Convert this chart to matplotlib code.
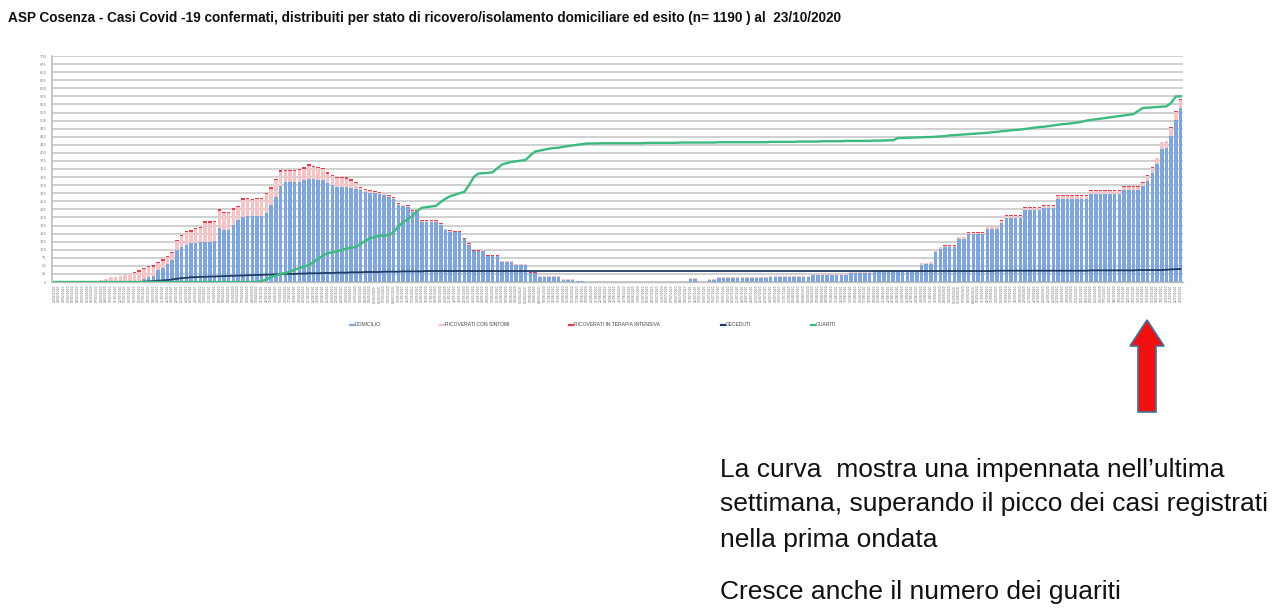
import matplotlib
matplotlib.use('Agg')
import matplotlib.pyplot as plt
import numpy as np
import pandas as pd
from matplotlib.patches import Polygon
from matplotlib.lines import Line2D

# ---------------- data ----------------
dates = pd.date_range('2020-02-27', '2020-10-23').strftime('%d/%m/%Y').tolist()

domicilio = [
    0, 0, 0, 0, 0, 0, 0, 0, 0, 0,
    0, 0, 0, 0, 0, 0, 0, 0, 0, 10,
    17, 19, 36, 44, 55, 68, 99, 109, 115, 120,
    120, 123, 125, 125, 126, 167, 161, 162, 176, 191,
    202, 203, 204, 204, 205, 213, 238, 263, 297, 310,
    310, 311, 311, 315, 320, 318, 317, 317, 308, 300,
    294, 294, 293, 290, 288, 284, 280, 277, 275, 272,
    268, 262, 256, 238, 234, 232, 216, 216, 186, 186,
    186, 187, 178, 161, 156, 154, 154, 132, 116, 95,
    95, 95, 79, 79, 79, 61, 61, 61, 52, 52,
    52, 28, 28, 17, 17, 17, 17, 17, 7, 7,
    7, 2, 2, 0, 0, 0, 0, 0, 0, 0,
    0, 0, 0, 0, 0, 0, 0, 0, 0, 0,
    0, 0, 0, 0, 0, 9, 9, 0, 0, 6,
    6, 12, 12, 12, 12, 12, 12, 12, 12, 12,
    12, 12, 16, 16, 16, 16, 16, 16, 16, 16,
    16, 22, 22, 22, 22, 22, 22, 22, 22, 28,
    28, 28, 28, 28, 34, 34, 34, 34, 34, 34,
    34, 34, 34, 34, 54, 55, 57, 94, 103, 109,
    109, 109, 134, 134, 149, 149, 149, 149, 165, 165,
    165, 182, 198, 198, 198, 198, 223, 223, 223, 223,
    229, 229, 229, 258, 258, 258, 258, 258, 258, 258,
    273, 273, 273, 273, 273, 273, 273, 286, 286, 286,
    286, 298, 314, 337, 365, 413, 414, 452, 502, 538,
]

ricoverati_sintomi = [
    0, 0, 0, 0, 0, 0, 0, 0, 0, 0,
    5, 9, 14, 16, 19, 21, 25, 29, 32, 29,
    29, 29, 22, 22, 21, 22, 27, 32, 39, 36,
    44, 44, 59, 59, 59, 54, 52, 52, 48, 40,
    53, 54, 50, 52, 52, 59, 51, 53, 45, 34,
    34, 33, 35, 36, 40, 38, 36, 33, 28, 28,
    27, 27, 27, 24, 18, 8, 6, 5, 4, 4,
    4, 5, 4, 4, 4, 4, 4, 4, 3, 3,
    3, 3, 2, 2, 2, 2, 2, 2, 2, 2,
    2, 3, 3, 3, 3, 3, 3, 3, 3, 3,
    3, 1, 1, 1, 1, 1, 1, 1, 1, 1,
    1, 1, 1, 0, 0, 0, 0, 0, 0, 0,
    0, 0, 0, 0, 0, 0, 0, 0, 0, 0,
    0, 0, 0, 0, 0, 2, 2, 2, 2, 2,
    2, 2, 2, 2, 2, 2, 2, 2, 2, 2,
    2, 2, 2, 2, 2, 2, 2, 2, 2, 2,
    2, 2, 2, 2, 2, 2, 2, 2, 2, 2,
    2, 2, 2, 2, 2, 2, 2, 2, 2, 2,
    2, 2, 2, 2, 4, 4, 4, 4, 4, 4,
    4, 4, 4, 4, 4, 4, 4, 4, 4, 4,
    4, 7, 7, 7, 7, 7, 7, 7, 7, 7,
    7, 7, 7, 9, 9, 9, 9, 9, 9, 9,
    9, 9, 9, 9, 9, 9, 9, 9, 9, 9,
    9, 9, 14, 16, 18, 20, 22, 24, 26, 27,
]

terapia_intensiva = [
    0, 0, 0, 0, 0, 0, 0, 0, 0, 0,
    1, 1, 1, 1, 1, 1, 1, 1, 4, 4,
    4, 4, 4, 4, 4, 4, 4, 4, 4, 4,
    4, 4, 4, 4, 4, 4, 4, 4, 4, 4,
    4, 4, 4, 4, 4, 4, 4, 4, 4, 4,
    4, 4, 4, 4, 4, 4, 4, 4, 4, 4,
    4, 4, 4, 4, 4, 2, 2, 2, 2, 2,
    2, 2, 2, 2, 2, 2, 2, 2, 2, 2,
    2, 2, 2, 2, 2, 2, 2, 2, 2, 2,
    2, 1, 1, 1, 1, 1, 1, 1, 1, 1,
    1, 1, 1, 1, 1, 1, 1, 1, 1, 1,
    1, 1, 1, 0, 0, 0, 0, 0, 0, 0,
    0, 0, 0, 0, 0, 0, 0, 0, 0, 0,
    0, 0, 0, 0, 0, 1, 1, 1, 1, 1,
    1, 1, 1, 1, 1, 1, 1, 1, 1, 1,
    1, 1, 1, 1, 1, 1, 1, 1, 1, 1,
    1, 1, 1, 1, 1, 1, 1, 1, 1, 1,
    1, 1, 1, 1, 1, 1, 1, 1, 1, 1,
    1, 1, 1, 1, 1, 1, 1, 1, 1, 1,
    1, 1, 1, 1, 1, 1, 1, 1, 1, 1,
    1, 2, 2, 2, 2, 2, 2, 2, 2, 2,
    2, 2, 2, 2, 2, 2, 2, 2, 2, 2,
    2, 2, 2, 2, 2, 2, 2, 2, 2, 2,
    2, 2, 2, 2, 2, 2, 2, 3, 3, 3,
]

deceduti = [
    0, 0, 0, 0, 0, 0, 0, 0, 0, 0,
    0, 0, 0, 0, 0, 0, 0, 0, 0, 1,
    2, 3, 4, 5, 6, 8, 10, 12, 13, 15,
    15, 16, 16, 17, 17, 18, 18, 19, 19, 20,
    20, 21, 21, 22, 22, 23, 23, 24, 24, 25,
    25, 25, 26, 26, 27, 27, 27, 28, 28, 28,
    29, 29, 29, 30, 30, 30, 31, 31, 31, 31,
    32, 32, 32, 32, 33, 33, 33, 33, 33, 34,
    34, 34, 34, 34, 34, 34, 34, 34, 34, 34,
    34, 34, 34, 34, 34, 34, 34, 34, 34, 34,
    34, 34, 34, 34, 34, 34, 34, 34, 34, 34,
    34, 34, 34, 34, 34, 34, 34, 34, 34, 34,
    34, 34, 34, 34, 34, 34, 34, 34, 34, 34,
    34, 34, 34, 34, 34, 34, 34, 34, 34, 34,
    34, 34, 34, 34, 34, 34, 34, 34, 34, 34,
    34, 34, 34, 34, 34, 34, 34, 34, 34, 34,
    34, 34, 34, 34, 34, 34, 34, 34, 34, 34,
    34, 34, 34, 34, 34, 34, 34, 34, 34, 34,
    34, 34, 34, 34, 34, 34, 34, 34, 34, 34,
    34, 34, 34, 34, 34, 34, 34, 34, 34, 34,
    35, 35, 35, 35, 35, 35, 35, 35, 35, 35,
    35, 35, 35, 35, 35, 35, 35, 35, 35, 35,
    36, 36, 36, 36, 36, 36, 36, 36, 36, 36,
    37, 37, 37, 37, 37, 37, 38, 39, 40, 40,
]

guariti = [
    0, 0, 0, 0, 0, 0, 0, 0, 0, 0,
    0, 0, 0, 0, 0, 0, 0, 0, 0, 0,
    0, 0, 0, 0, 0, 0, 0, 0, 0, 0,
    0, 0, 0, 0, 0, 0, 0, 0, 0, 0,
    0, 0, 0, 0, 3, 8, 16, 20, 25, 28,
    32, 38, 43, 48, 52, 62, 72, 82, 89, 92,
    95, 99, 104, 106, 109, 118, 128, 135, 140, 143,
    144, 145, 155, 172, 185, 195, 205, 220, 230, 232,
    234, 236, 248, 258, 266, 270, 275, 279, 300, 325,
    336, 337, 338, 340, 352, 364, 368, 372, 374, 376,
    378, 392, 404, 407, 410, 413, 415, 416, 419, 421,
    423, 425, 427, 429, 429, 429, 430, 430, 430, 430,
    430, 430, 430, 430, 430, 430, 431, 431, 431, 431,
    431, 431, 431, 432, 432, 432, 432, 432, 432, 432,
    432, 433, 433, 433, 433, 433, 433, 433, 433, 433,
    433, 433, 434, 434, 434, 434, 434, 434, 435, 435,
    435, 435, 435, 436, 436, 436, 436, 436, 437, 437,
    437, 437, 437, 437, 438, 438, 438, 439, 439, 446,
    446, 447, 447, 448, 448, 449, 449, 450, 451, 452,
    454, 455, 456, 457, 458, 459, 460, 461, 462, 464,
    465, 467, 468, 470, 471, 472, 474, 476, 478, 480,
    481, 483, 485, 487, 489, 490, 492, 494, 496, 500,
    502, 504, 506, 508, 510, 512, 514, 516, 518, 520,
    530, 539, 540, 541, 542, 543, 544, 555, 575, 575,
]

y_ticks = list(range(0, 701, 25))

title = ("ASP Cosenza - Casi Covid -19 confermati, distribuiti per stato di "
         "ricovero/isolamento domiciliare ed esito (n= 1190 ) al  23/10/2020")
legend_labels = ["DOMICILIO", "RICOVERATI CON SINTOMI",
                 "RICOVERATI IN TERAPIA INTENSIVA", "DECEDUTI", "GUARITI"]
note_lines = ["La curva  mostra una impennata nell\u2019ultima",
              "settimana, superando il picco dei casi registrati",
              "nella prima ondata",
              "Cresce anche il numero dei guariti"]

for arr in (domicilio, ricoverati_sintomi, terapia_intensiva, deceduti, guariti):
    assert len(arr) == len(dates), len(arr)

# ---------------- style ----------------
C_BLUE = '#7ea6dd'
C_PINK = '#f4c4c6'
C_RED = '#e2404f'
C_NAVY = '#1f3b63'
C_GREEN = '#3dba7e'
C_GRID = '#d0d0d0'

W, H = 1280, 615
fig = plt.figure(figsize=(W / 100, H / 100), dpi=100)


def fx(px):
    return px / W


def fy(py):
    return 1 - py / H


ax = fig.add_axes([fx(52), fy(282), fx(1183) - fx(52), fy(56) - fy(282)])

x = np.arange(len(dates))
d = np.array(domicilio)
r = np.array(ricoverati_sintomi)
t = np.array(terapia_intensiva)

ax.bar(x, d, width=0.75, color=C_BLUE, zorder=2, linewidth=0)
ax.bar(x, r, bottom=d, width=0.75, color=C_PINK, zorder=2, linewidth=0)
ax.bar(x, t, bottom=d + r, width=0.75, color=C_RED, zorder=2, linewidth=0)
ax.plot(x, deceduti, color=C_NAVY, lw=1.3, zorder=4)
ax.plot(x, guariti, color=C_GREEN, lw=1.7, zorder=5)

ax.set_xlim(-0.5, len(dates) - 0.5)
ax.set_ylim(0, 700)
ax.set_yticks(y_ticks)
ax.set_yticklabels([str(v) for v in y_ticks])
ax.yaxis.grid(True, color=C_GRID, lw=1.4, zorder=0)
ax.set_axisbelow(True)
ax.set_xticks(x)
ax.set_xticklabels(dates, rotation=90, fontsize=2.2, color='#666666')
ax.tick_params(axis='y', labelsize=2.6, labelcolor='#808080', length=0, pad=4)
ax.tick_params(axis='x', length=0, pad=2)
for s in ('top', 'right'):
    ax.spines[s].set_visible(False)
ax.spines['left'].set_color('#bdbdbd')
ax.spines['left'].set_linewidth(1.2)
ax.spines['bottom'].set_color('#bdbdbd')
ax.spines['bottom'].set_linewidth(1.0)

# title
fig.text(fx(8), fy(18), title, fontsize=9.85, fontweight='bold',
         family='Liberation Sans', va='center', ha='left', color='#111111')

# legend (manual, small)
leg_colors = [C_BLUE, C_PINK, C_RED, C_NAVY, C_GREEN]
leg_x = [350, 440, 569, 721, 811]
for lx, col, lab in zip(leg_x, leg_colors, legend_labels):
    fig.add_artist(Line2D([fx(lx), fx(lx + 4)], [fy(325), fy(325)],
                          transform=fig.transFigure, color=col, lw=1.6))
    fig.text(fx(lx + 5), fy(325), lab, fontsize=3.6, color='#444444',
             va='center', ha='left', family='Liberation Sans')

# red arrow
arrow_pts = [(1147, 320), (1164, 346), (1156, 346), (1156, 412),
             (1138, 412), (1138, 346), (1130, 346)]
fig.add_artist(Polygon([(fx(px), fy(py)) for px, py in arrow_pts],
                       closed=True, transform=fig.transFigure,
                       facecolor='#f01010', edgecolor='#41719c', lw=1.2))

# note text
note_y = [470, 504, 540, 592]
for ny, line in zip(note_y, note_lines):
    fig.text(fx(720), fy(ny), line, fontsize=19, family='Liberation Sans',
             va='center', ha='left', color='#111111')

fig.savefig('out.png', dpi=100)
